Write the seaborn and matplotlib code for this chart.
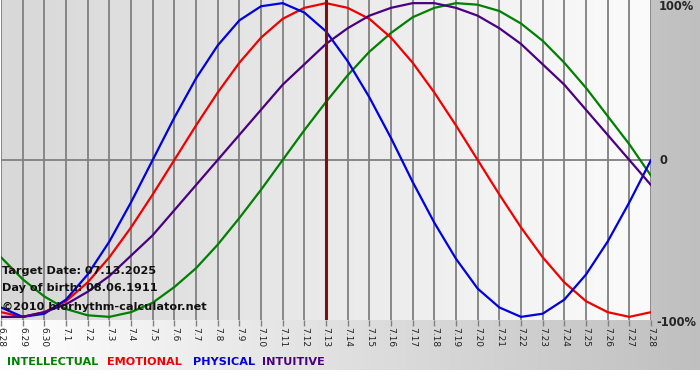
import numpy as np
import pandas as pd
import matplotlib
matplotlib.use("Agg")
import matplotlib.pyplot as plt
import seaborn as sns

# ---- data (values in %) ----
date_labels = ["6.28", "6.29", "6.30", "7.1", "7.2", "7.3", "7.4", "7.5", "7.6", "7.7",
               "7.8", "7.9", "7.10", "7.11", "7.12", "7.13", "7.14", "7.15", "7.16", "7.17",
               "7.18", "7.19", "7.20", "7.21", "7.22", "7.23", "7.24", "7.25", "7.26", "7.27",
               "7.28"]
intellectual = [-62, -76, -87, -95, -99, -100, -97, -91, -81, -69, -54, -37, -19, 0, 19, 37,
                54, 69, 81, 91, 97, 100, 99, 95, 87, 76, 62, 46, 28, 10, -10]
emotional = [-97, -100, -97, -90, -78, -62, -43, -22, 0, 22, 43, 62, 78, 90, 97, 100,
             97, 90, 78, 62, 43, 22, 0, -22, -43, -62, -78, -90, -97, -100, -97]
physical = [-94, -100, -98, -89, -73, -52, -27, 0, 27, 52, 73, 89, 98, 100, 94, 82,
            63, 40, 14, -14, -40, -63, -82, -94, -100, -98, -89, -73, -52, -27, 0]
intuitive = [-100, -100, -97, -92, -84, -74, -61, -48, -32, -16, 0, 16, 32, 48, 61, 74,
             84, 92, 97, 100, 100, 97, 92, 84, 74, 61, 48, 32, 16, 0, -16]
series_names = ["INTELLECTUAL", "EMOTIONAL", "PHYSICAL", "INTUITIVE"]
target_label = "7.13"
target_date = "07.13.2025"
birth_date = "08.06.1911"
y_labels = ["100%", "0", "-100%"]

colors = {"INTELLECTUAL": "#008000", "EMOTIONAL": "#f00000",
          "PHYSICAL": "#0000e0", "INTUITIVE": "#4b0082"}

idx = np.arange(len(date_labels))
df = pd.concat([
    pd.DataFrame({"idx": idx, "value": vals, "series": name})
    for name, vals in zip(series_names, [intellectual, emotional, physical, intuitive])
], ignore_index=True)

sns.set_style("white")
plt.rcParams["font.family"] = ["DejaVu Sans"]

W, H = 700, 380
fig = plt.figure(figsize=(W / 100, H / 100), dpi=100)

# figure background: horizontal gradient white -> gray, white strip at very bottom
bg = fig.add_axes([0, 0, 1, 1])
bg.set_zorder(-10)
g = np.linspace(1.0, 0.75, W)
img = np.tile(g, (H, 1))
img[H - 10:, :] = 1.0
bg.imshow(np.dstack([img, img, img]), aspect="auto", extent=[0, 1, 0, 1], origin="upper")
bg.axis("off")

def fx(px):
    return px / W

def fy(py):
    return 1 - py / H

ax = fig.add_axes([fx(1), fy(320), 650 / W, 320 / H])
ax.set_xlim(0, len(date_labels) - 1)
ax.set_ylim(-102, 102)

# plot-area gradient: gray at left -> near white at right
pg = np.linspace(216, 251, 256)[None, :] / 255.0
ax.imshow(np.dstack([pg, pg, pg]), aspect="auto",
          extent=[0, len(date_labels) - 1, -102, 102], zorder=0)

ax.set_xticks(idx)
ax.set_xticklabels(date_labels)
ax.grid(axis="x", color="#808080", lw=1.3, zorder=1)
ax.set_axisbelow(True)
ax.axhline(0, color="#808080", lw=1.3, zorder=1)
ax.set_yticks([])

sns.lineplot(data=df, x="idx", y="value", hue="series", palette=colors,
             hue_order=series_names, lw=1.6, legend=False, ax=ax, zorder=3)
for ln in ax.get_lines():
    ln.set_solid_joinstyle("round")
ax.axvline(date_labels.index(target_label), color="#7b1010", lw=2.2, zorder=4)

ax.set_xlabel("")
ax.set_ylabel("")
for s in ax.spines.values():
    s.set_visible(False)
ax.tick_params(axis="x", length=4, width=1, color="#808080", labelsize=6.5,
               labelcolor="#222222", pad=1, bottom=True)
for lab in ax.get_xticklabels():
    lab.set_rotation(270)
    lab.set_ha("center")
    lab.set_va("top")

# overlay texts
fs = 8.1
fig.text(fx(2), fy(271), f"Target Date: {target_date}", fontsize=fs, weight="bold",
         va="center", ha="left", color="#111111")
fig.text(fx(2), fy(288), f"Day of birth: {birth_date}", fontsize=fs, weight="bold",
         va="center", ha="left", color="#111111")
fig.text(fx(2), fy(307), "\u00a92010 biorhythm-calculator.net", fontsize=fs, weight="bold",
         va="center", ha="left", color="#111111")

# right-side scale labels
rs = 8.3
fig.text(fx(659), fy(7), y_labels[0], fontsize=rs, weight="bold", va="center", ha="left")
fig.text(fx(659), fy(161), y_labels[1], fontsize=rs, weight="bold", va="center", ha="left")
fig.text(fx(656), fy(322), y_labels[2], fontsize=rs, weight="bold", va="center", ha="left")

# legend words
legend_x = [7, 107, 193, 262]
for name, x in zip(series_names, legend_x):
    fig.text(fx(x), fy(362), name, fontsize=8.1, weight="bold", color=colors[name],
             va="center", ha="left")

fig.savefig("out.png", dpi=100)
